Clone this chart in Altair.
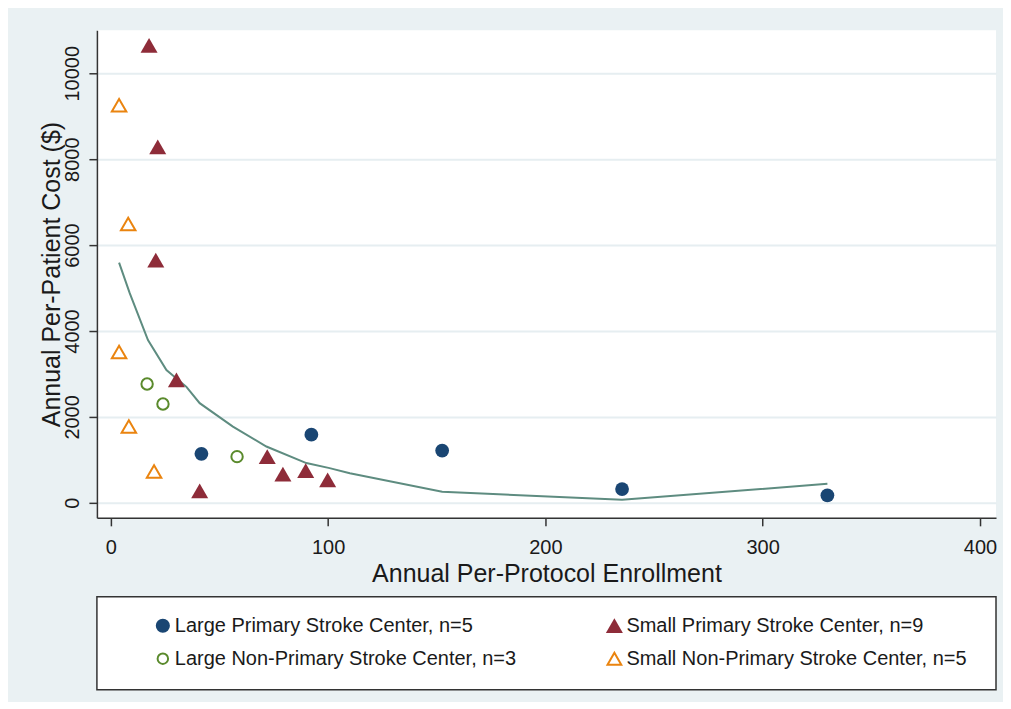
import altair as alt
import pandas as pd

# ---- data ----
lp_x = [41.7, 92.3, 152.5, 235.3, 329.8]
lp_y = [1140, 1585, 1215, 320, 175]
sp_x = [17.6, 21.6, 20.7, 30.2, 40.9, 72.0, 79.2, 89.7, 99.8]
sp_y = [10650, 8285, 5650, 2860, 280, 1075, 665, 750, 535]
ln_x = [16.7, 24.0, 58.1]
ln_y = [2765, 2300, 1075]
sn_x = [3.8, 8.0, 3.8, 8.3, 19.9]
sn_y = [9255, 6490, 3510, 1775, 730]
fit_x = [3.8, 8.7, 17.1, 25.6, 34.8, 40.9, 56.2, 71.6, 90.0, 100.7, 110.0, 152.5, 235.3, 329.8]
fit_y = [5590, 4880, 3790, 3090, 2700, 2320, 1775, 1310, 925, 807, 690, 255, 70, 442]

labels = [
    "Large Primary Stroke Center, n=5",
    "Small Primary Stroke Center, n=9",
    "Large Non-Primary Stroke Center, n=3",
    "Small Non-Primary Stroke Center, n=5",
]
leg_col = [0, 1, 0, 1]
leg_row = [0, 0, 1, 1]
x_ticks = [0, 100, 200, 300, 400]
y_ticks = [0, 2000, 4000, 6000, 8000, 10000]

FONT = "Liberation Sans"
NAVY = "#1a4673"
RED = "#8e2c39"
GREEN = "#5a8a2c"
ORANGE = "#ea840f"
LINE = "#5e8c80"

groups = [
    dict(x=lp_x, y=lp_y, color=NAVY, shape="circle", filled=True, size=190, lsize=200),
    dict(x=sp_x, y=sp_y, color=RED, shape="triangle-up", filled=True, size=290, lsize=290),
    dict(x=ln_x, y=ln_y, color=GREEN, shape="circle", filled=False, size=130, lsize=110),
    dict(x=sn_x, y=sn_y, color=ORANGE, shape="triangle-up", filled=False, size=210, lsize=190),
]

xs = alt.Scale(domain=[-6.4, 407.4], nice=False, zero=False)
ys = alt.Scale(domain=[-350, 11000], nice=False, zero=False)

X = alt.X("x:Q", scale=xs,
          axis=alt.Axis(values=x_ticks, title="Annual Per-Protocol Enrollment", grid=False,
                        format="d", labelPadding=12, titlePadding=4))
Y = alt.Y("y:Q", scale=ys,
          axis=alt.Axis(values=y_ticks, title="Annual Per-Patient Cost ($)", grid=True,
                        format="d", labelAngle=270, labelPadding=6, titlePadding=-2))

fit_df = pd.DataFrame({"x": fit_x, "y": fit_y})
layers = [alt.Chart(fit_df).mark_line(color=LINE, strokeWidth=2).encode(x=X, y=Y)]
for g in groups:
    df = pd.DataFrame({"x": g["x"], "y": g["y"]})
    if g["filled"]:
        m = alt.Chart(df).mark_point(shape=g["shape"], filled=True, color=g["color"],
                                     size=g["size"], opacity=1, strokeWidth=0)
    else:
        m = alt.Chart(df).mark_point(shape=g["shape"], filled=False, color=g["color"],
                                     size=g["size"], opacity=1, strokeWidth=2)
    layers.append(m.encode(x=X, y=Y))

main = alt.layer(*layers).properties(
    width=900, height=488,
    view=alt.ViewBackground(fill="white", stroke=None),
)

# ---- legend panel ----
leg_df = pd.DataFrame({"label": labels, "col": leg_col, "row": leg_row})
LX = alt.X("col:Q", scale=alt.Scale(domain=[0, 1], range=[66, 518]), axis=None)
LY = alt.Y("row:Q", scale=alt.Scale(domain=[0, 1], range=[29, 62]), axis=None)
leg_layers = []
for i, g in enumerate(groups):
    sub = leg_df.iloc[[i]]
    if g["filled"]:
        m = alt.Chart(sub).mark_point(shape=g["shape"], filled=True, color=g["color"],
                                      size=g["lsize"], opacity=1, strokeWidth=0)
    else:
        m = alt.Chart(sub).mark_point(shape=g["shape"], filled=False, color=g["color"],
                                      size=g["lsize"], opacity=1, strokeWidth=2)
    leg_layers.append(m.encode(x=LX, y=LY))
leg_layers.append(
    alt.Chart(leg_df).mark_text(align="left", baseline="middle", dx=12, font=FONT,
                                fontSize=20, color="#1a1a1a").encode(x=LX, y=LY, text="label:N")
)
legend = alt.layer(*leg_layers).properties(
    width=900, height=93,
    view=alt.ViewBackground(fill="white", stroke="#333333", strokeWidth=1.5),
)

chart = alt.vconcat(main, legend, spacing=9).properties(
    padding={"left": 32, "top": 22, "right": 6, "bottom": 11},
    background="#eaf1f3",
).configure_axis(
    labelFont=FONT, titleFont=FONT, labelFontSize=20, titleFontSize=25,
    labelColor="#1a1a1a", titleColor="#1a1a1a", titleFontWeight="normal",
    domainColor="#333333", domainWidth=1.5, tickColor="#333333", tickWidth=1.5, tickSize=8,
    gridColor="#e6eef1", gridWidth=2,
).configure_view(stroke=None)

chart.save("out.html", embed_options={"renderer": "svg", "actions": False})
